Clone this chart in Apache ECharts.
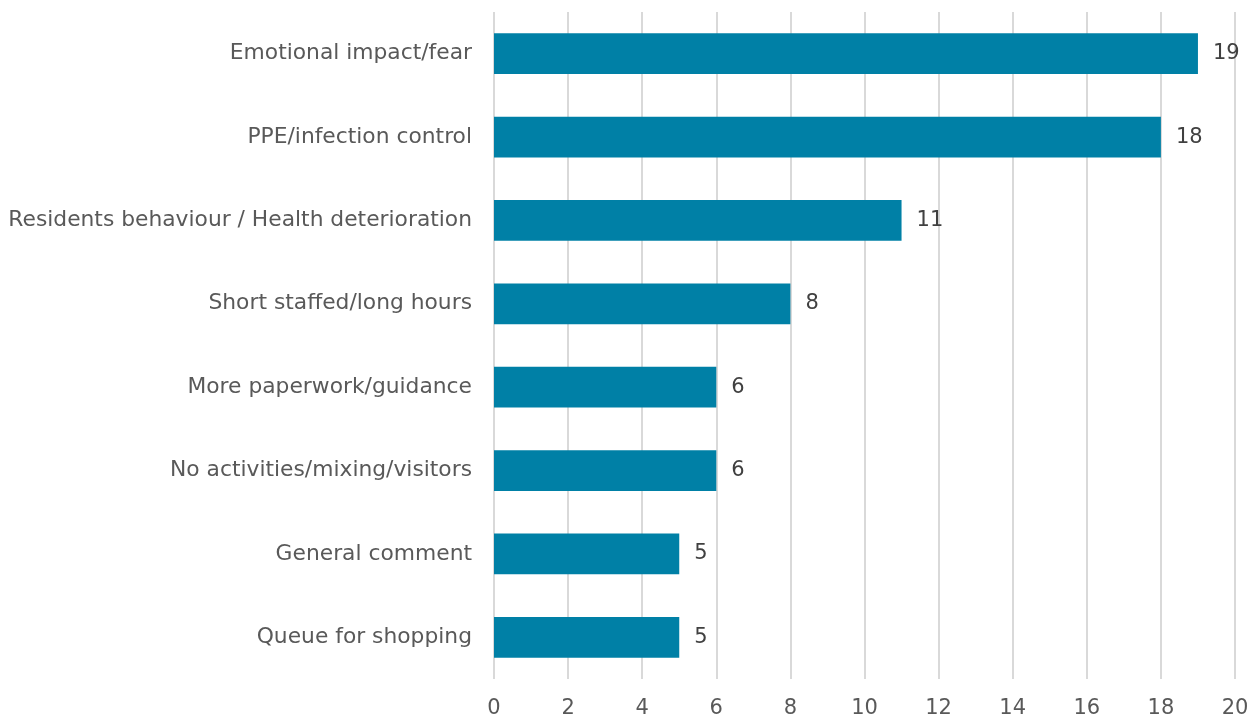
<!DOCTYPE html>
<html>
<head>
<meta charset="utf-8">
<style>
  html, body { margin: 0; padding: 0; background: #ffffff; }
  #chart { width: 1258px; height: 720px; }
</style>
<script src="https://cdn.jsdelivr.net/npm/echarts@6/dist/echarts.min.js"></script>
</head>
<body>
<div id="chart"></div>
<script>
// Reported challenges, counted by theme (listed top to bottom)
const categories = [
  'Emotional impact/fear',
  'PPE/infection control',
  'Residents behaviour / Health deterioration',
  'Short staffed/long hours',
  'More paperwork/guidance',
  'No activities/mixing/visitors',
  'General comment',
  'Queue for shopping'
];
const counts = [19, 18, 11, 8, 6, 6, 5, 5];

const axisMin = 0;
const axisMax = 20;
const axisStep = 2;

const textColor = '#595959';
const fontFamily = '"DejaVu Sans", sans-serif';

const chart = echarts.init(document.getElementById('chart'), null, { renderer: 'canvas' });

chart.setOption({
  animation: false,
  grid: { left: 494, right: 23, top: 12, bottom: 41, containLabel: false },
  xAxis: {
    type: 'value',
    min: axisMin,
    max: axisMax,
    interval: axisStep,
    axisLine: { show: false },
    axisTick: { show: false },
    splitLine: { show: true, lineStyle: { color: '#d9d9d9', width: 2 } },
    axisLabel: { color: textColor, fontSize: 21, fontFamily: fontFamily, margin: 19 }
  },
  yAxis: {
    type: 'category',
    data: categories,
    inverse: true,
    axisLine: { show: false },
    axisTick: { show: false },
    axisLabel: { color: textColor, fontSize: 21.8, fontFamily: fontFamily, margin: 22 }
  },
  series: [{
    type: 'bar',
    data: counts,
    barWidth: '49%',
    itemStyle: { color: '#0080a6' },
    label: {
      show: true,
      position: 'right',
      distance: 15,
      color: '#404040',
      fontSize: 21,
      fontFamily: fontFamily
    }
  }]
});
</script>
</body>
</html>
